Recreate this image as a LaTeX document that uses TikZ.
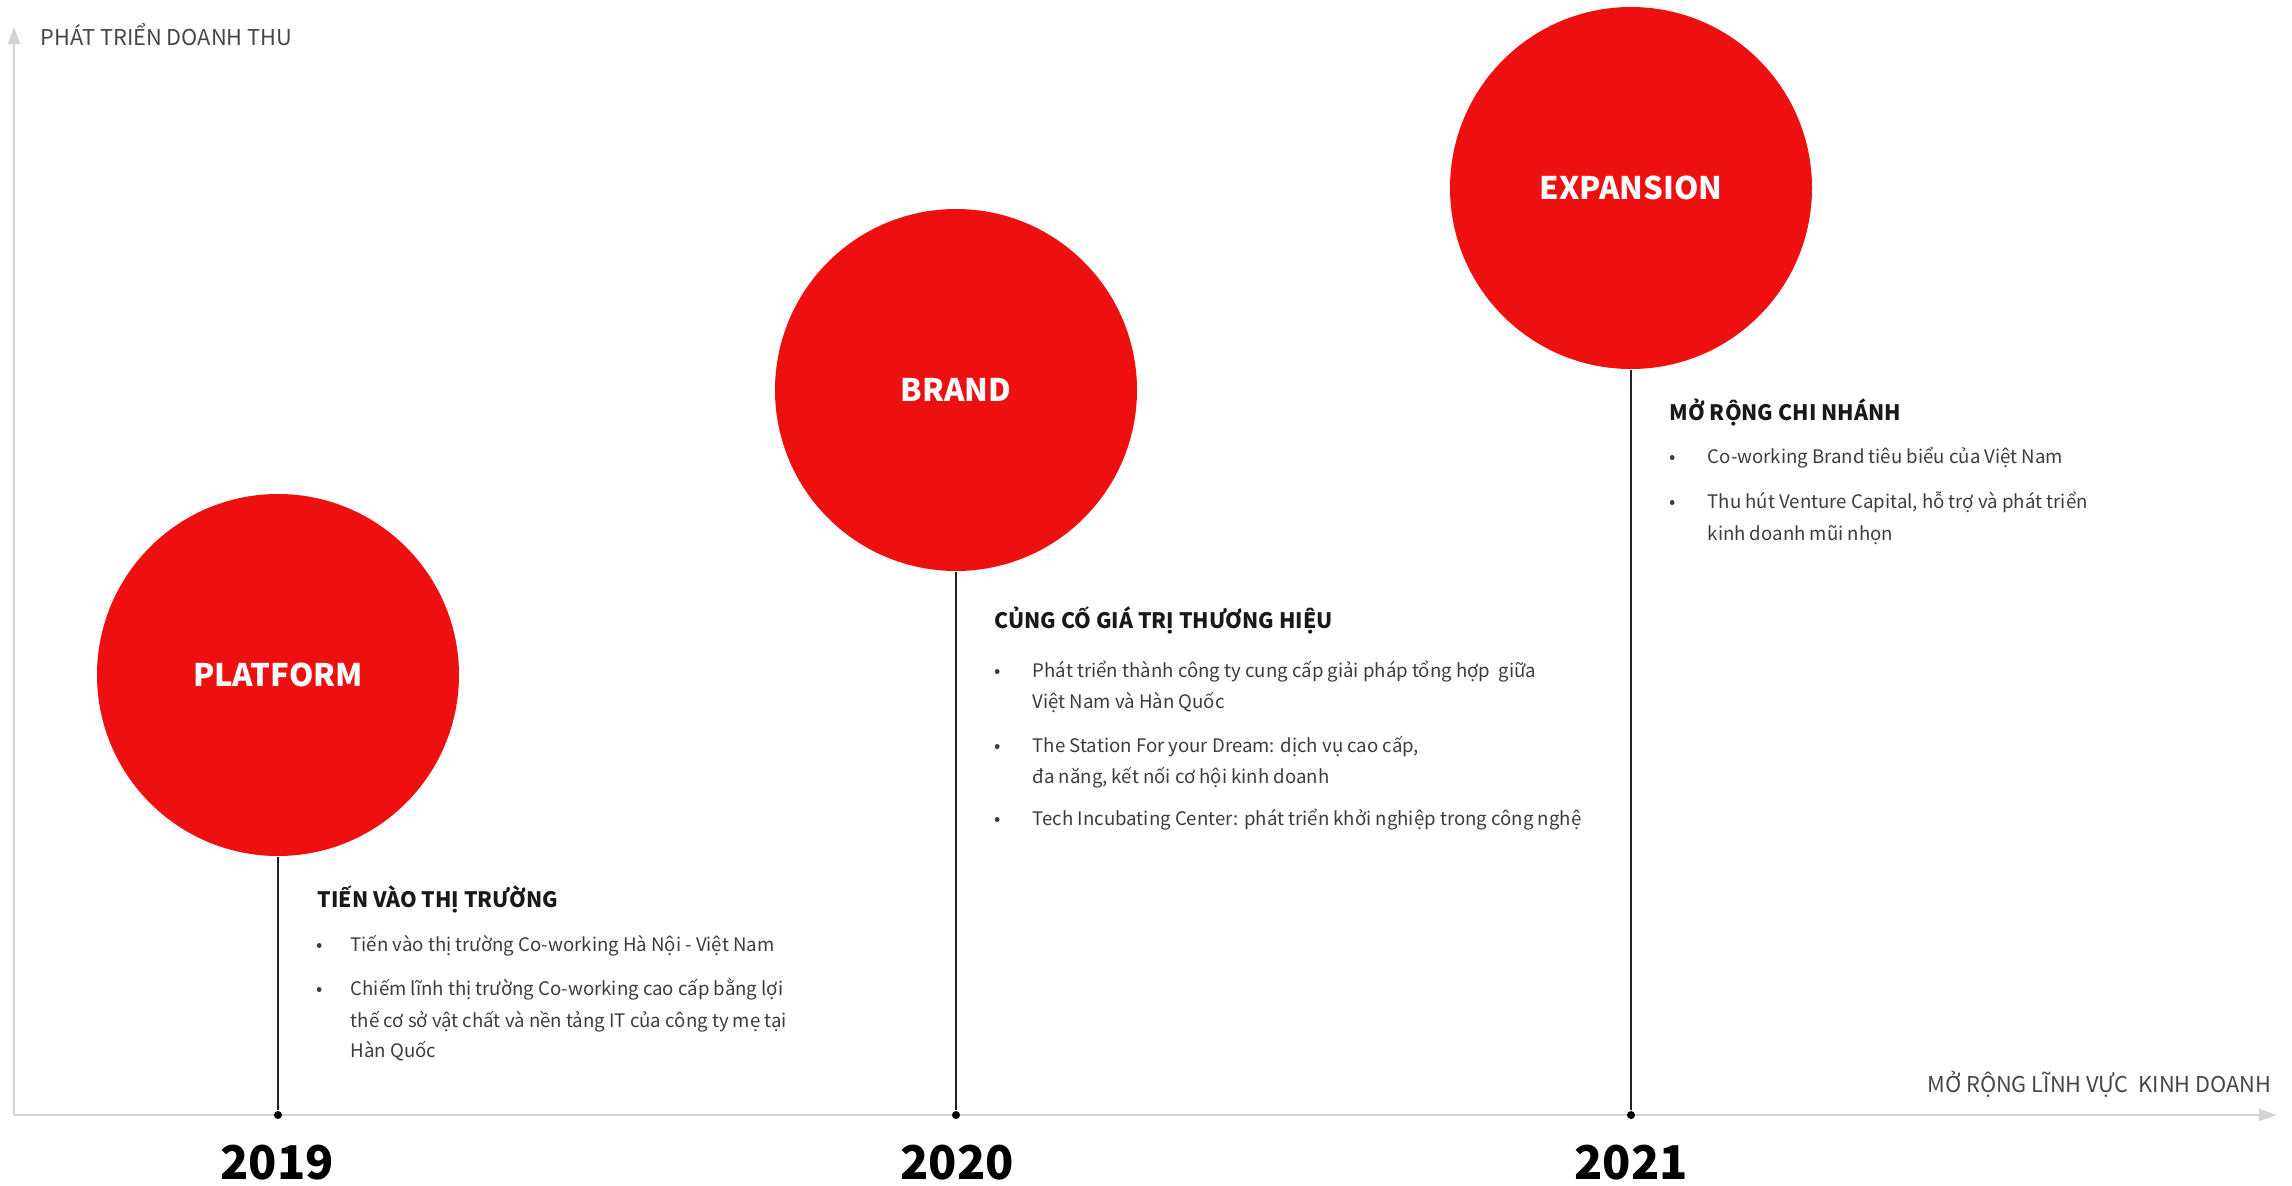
\documentclass[tikz,border=0pt]{standalone}
\usepackage{fontspec}
\setmainfont{Noto Sans CJK KR}
\usetikzlibrary{arrows.meta,positioning}
\definecolor{stagered}{RGB}{238,16,16}
\definecolor{axisgray}{RGB}{212,212,212}
\definecolor{axtext}{RGB}{70,70,70}
\definecolor{txtgray}{RGB}{60,60,60}
\definecolor{stemgray}{RGB}{35,35,35}

\begin{document}
\begin{tikzpicture}[
	stage/.style={circle, fill=stagered, minimum size=3.62cm, inner sep=0pt, text=white, font=\fontsize{8.85}{11}\selectfont\bfseries},
	enddot/.style={circle, fill=black, minimum size=0.8mm, inner sep=0pt},
	year/.style={inner sep=0pt, font=\fontsize{13.25}{16}\selectfont\bfseries},
	headtext/.style={anchor=base west, inner sep=0pt, text=black!90, font=\fontsize{6.05}{8}\selectfont\bfseries},
	bodytext/.style={anchor=base west, inner sep=0pt, text=txtgray, font=\fontsize{5.3}{7}\selectfont},
	bul/.style={anchor=base, inner sep=0pt, text=txtgray, font=\fontsize{5.3}{7}\selectfont},
	axislabel/.style={inner sep=0pt, text=axtext, font=\fontsize{6.2}{8}\selectfont}]
	\useasboundingbox (0,0) rectangle (22.92,11.85);
	%\draw [help lines] (0,0) grid (22,11);

	% axes
	\coordinate (o) at (0.14,0.70);
	\coordinate (ytop) at (0.14,11.58);
	\coordinate (xend) at (22.77,0.70);
	\draw [axisgray, line width=0.15mm, -{Triangle[length=1.7mm, width=1.2mm]}] (o) -- (ytop);
	\draw [axisgray, line width=0.15mm, -{Triangle[length=1.8mm, width=1.2mm]}] (o) -- (xend);
	\node [axislabel, anchor=base west] (ylab) at (0.40,11.40) {PHÁT TRIỂN DOANH THU};
	\node [axislabel, anchor=base east] (xlab) at (22.72,0.93) {MỞ RỘNG LĨNH VỰC\ \ KINH DOANH};

	% stages
	\node [stage] (platform) at (2.78,5.10) {PLATFORM};
	\node [stage] (brand) at (9.56,7.95) {BRAND};
	\node [stage] (expansion) at (16.31,9.97) {EXPANSION};

	\node [enddot] (d19) at (2.78,0.70) {};
	\node [enddot] (d20) at (9.56,0.70) {};
	\node [enddot] (d21) at (16.31,0.70) {};
	\draw [stemgray, line width=0.15mm] (platform) -- (d19);
	\draw [stemgray, line width=0.15mm] (brand) -- (d20);
	\draw [stemgray, line width=0.15mm] (expansion) -- (d21);

	\node [year] (y19) at (2.77,0.22) {2019};
	\node [year] (y20) at (9.57,0.22) {2020};
	\node [year] (y21) at (16.31,0.22) {2021};

	% 2019
	\node [headtext] (h19) at (3.17,2.78) {TIẾN VÀO THỊ TRƯỜNG};
	\node [bul] (b19a) at (3.20,2.34) {•};
	\node [bodytext] (t19a) at (3.50,2.34) {Tiến vào thị trường Co-working Hà Nội - Việt Nam};
	\node [bul] (b19b) at (3.20,1.90) {•};
	\node [bodytext] (t19b) at (3.50,1.90) {Chiếm lĩnh thị trường Co-working cao cấp bằng lợi};
	\node [bodytext] (t19c) at (3.50,1.58) {thế cơ sở vật chất và nền tảng IT của công ty mẹ tại};
	\node [bodytext] (t19d) at (3.50,1.28) {Hàn Quốc};

	% 2020
	\node [headtext] (h20) at (9.94,5.57) {CỦNG CỐ GIÁ TRỊ THƯƠNG HIỆU};
	\node [bul] (b20a) at (9.98,5.08) {•};
	\node [bodytext] (t20a) at (10.32,5.08) {Phát triển thành công ty cung cấp giải pháp tổng hợp\ \ giữa};
	\node [bodytext] (t20b) at (10.32,4.77) {Việt Nam và Hàn Quốc};
	\node [bul] (b20b) at (9.98,4.33) {•};
	\node [bodytext] (t20c) at (10.32,4.33) {The Station For your Dream: dịch vụ cao cấp,};
	\node [bodytext] (t20d) at (10.32,4.02) {đa năng, kết nối cơ hội kinh doanh};
	\node [bul] (b20c) at (9.98,3.60) {•};
	\node [bodytext] (t20e) at (10.32,3.60) {Tech Incubating Center: phát triển khởi nghiệp trong công nghệ};

	% 2021
	\node [headtext] (h21) at (16.69,7.65) {MỞ RỘNG CHI NHÁNH};
	\node [bul] (b21a) at (16.73,7.22) {•};
	\node [bodytext] (t21a) at (17.07,7.22) {Co-working Brand tiêu biểu của Việt Nam};
	\node [bul] (b21b) at (16.73,6.77) {•};
	\node [bodytext] (t21b) at (17.07,6.77) {Thu hút Venture Capital, hỗ trợ và phát triển};
	\node [bodytext] (t21c) at (17.07,6.45) {kinh doanh mũi nhọn};
\end{tikzpicture}
\end{document}
